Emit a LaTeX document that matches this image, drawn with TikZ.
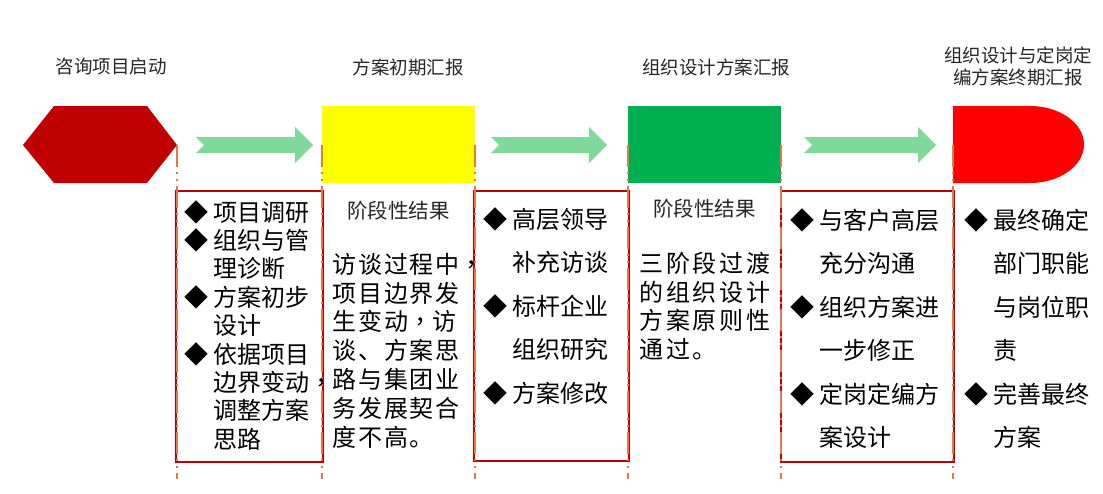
\documentclass[tikz,border=0pt]{standalone}
\usepackage{fontspec}
\setmainfont{Noto Sans CJK SC}
\newfontfamily\midpunct{Noto Sans CJK TC}
\usetikzlibrary{positioning}

\definecolor{hexred}{HTML}{C00000}
\definecolor{stageyellow}{HTML}{FFFF00}
\definecolor{stagegreen}{HTML}{00B050}
\definecolor{stagered}{HTML}{FF0000}
\definecolor{flowgreen}{HTML}{80D99B}
\definecolor{sepline}{HTML}{E07850}
\definecolor{boxred}{HTML}{C00000}

\newcommand{\bul}{\makebox[29pt][l]{◆}}
\newcommand{\ind}{\hspace*{29pt}}
\newcommand{\cm}{{\midpunct ，}}

\tikzset{
  titletext/.style={font=\fontsize{18.5}{22}\selectfont, text=black!85, align=center, inner sep=0pt},
  stage/.style={minimum width=153pt, minimum height=77pt, inner sep=0pt},
  sepdash/.style={draw=sepline, line width=2pt, dash pattern=on 22pt off 5pt on 2pt off 5pt on 2pt off 5pt},
  listbox/.style={draw=boxred, line width=1.2pt},
  itemtext/.style={font=\fontsize{24}{28.4}\selectfont, align=left, anchor=north west, inner sep=0pt},
  loosetext/.style={itemtext, font=\fontsize{24}{43.5}\selectfont},
  headtext/.style={font=\fontsize{20.5}{24}\selectfont, text=black!85, inner sep=0pt},
}

\begin{document}
\begin{tikzpicture}[x=1pt,y=-1pt]
\useasboundingbox (0,0) rectangle (1103,493);
\coordinate (bot) at (0,479);

% stages
\fill[hexred] (23,145) -- (54,106) -- (147,106) -- (177,145) -- (147,183) -- (54,183) -- cycle;
\coordinate (s1) at (177,145);
\node[stage, fill=stageyellow] (s2) at (398.5,144.5) {};
\node[stage, fill=stagegreen] (s3) at (704.5,144.5) {};
\fill[stagered] (953,106) -- (1030,106) arc[start angle=-90, end angle=90, x radius=54, y radius=38.5] -- (953,183) -- cycle;
\coordinate (s4) at (953,145);

\node[titletext] (t1) at (111,67) {咨询项目启动};
\node[titletext] (t2) at (408,67) {方案初期汇报};
\node[titletext] (t3) at (716,67) {组织设计方案汇报};
\node[titletext] (t4) at (1018,66) {组织设计与定岗定\\编方案终期汇报};

\foreach \xa/\xb in {196/313, 491/607, 804/936}
  \fill[flowgreen] (\xa,137) -- (\xb-18,137) -- (\xb-18,127) -- (\xb,145) -- (\xb-18,163)
    -- (\xb-18,153) -- (\xa,153) -- (\xa+8,145) -- cycle;

\draw[listbox] (176,191) rectangle (323,462);
\draw[listbox] (474,191) rectangle (629,461);
\draw[listbox] (781,191) rectangle (954,462);

\foreach \p in {s1, s2.west, s2.east, s3.west, s3.east, s4}
  \draw[sepdash] (\p) -- (\p |- bot);

\node[itemtext] (c1) at (184,200) {\bul 项目调研\\ \bul 组织与管\\ \ind 理诊断\\ \bul 方案初步\\
  \ind 设计\\ \bul 依据项目\\ \ind 边界变动\cm\\ \ind 调整方案\\ \ind 思路};

\node[headtext, below=17.5pt of s2] (h2) {阶段性结果};
\node[itemtext, font=\fontsize{24}{28.8}\selectfont\addfontfeature{LetterSpace=8}] (c2) at (332,253)
  {访谈过程中\cm\\项目边界发\\生变动\cm 访\\谈、方案思\\路与集团业\\务发展契合\\度不高。};

\node[loosetext] (c3) at (483.5,207) {\bul 高层领导\\ \ind 补充访谈\\ \bul 标杆企业\\ \ind 组织研究\\ \bul 方案修改};

\node[headtext, below=15.5pt of s3] (h4) {阶段性结果};
\node[itemtext, font=\fontsize{24}{28.7}\selectfont\addfontfeature{LetterSpace=12}] (c4) at (639,252)
  {三阶段过渡\\的组织设计\\方案原则性\\通过。};

\node[loosetext] (c5) at (790,208) {\bul 与客户高层\\ \ind 充分沟通\\ \bul 组织方案进\\ \ind 一步修正\\
  \bul 定岗定编方\\ \ind 案设计};

\node[loosetext] (c6) at (964,208) {\bul 最终确定\\ \ind 部门职能\\ \ind 与岗位职\\ \ind 责\\
  \bul 完善最终\\ \ind 方案};
\end{tikzpicture}
\end{document}
